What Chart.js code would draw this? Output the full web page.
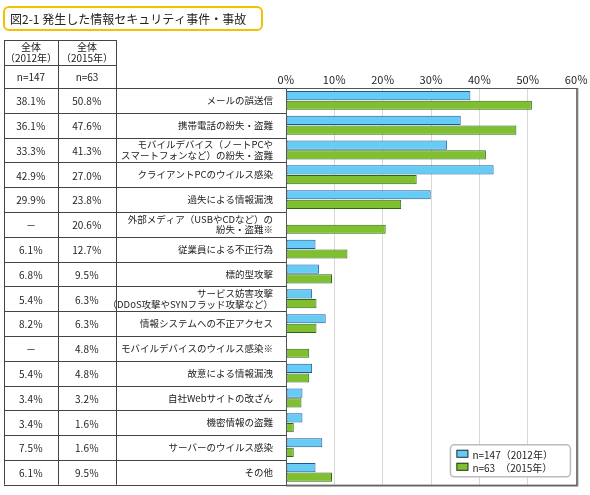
<!DOCTYPE html>
<html>
<script src="https://cdn.jsdelivr.net/npm/chart.js@4/dist/chart.umd.min.js"></script>
<body style="margin:0;background:#fff">
<canvas id="myChart" width="590" height="495"></canvas>
<script>
var titleText = "図2-1 発生した情報セキュリティ事件・事故";
var categories = [
  "メールの誤送信",
  "携帯電話の紛失・盗難",
  ["モバイルデバイス（ノートPCや", "スマートフォンなど）の紛失・盗難"],
  "クライアントPCのウイルス感染",
  "過失による情報漏洩",
  ["外部メディア（USBやCDなど）の", "紛失・盗難※"],
  "従業員による不正行為",
  "標的型攻撃",
  ["サービス妨害攻撃", "（DDoS攻撃やSYNフラッド攻撃など）"],
  "情報システムへの不正アクセス",
  "モバイルデバイスのウイルス感染※",
  "故意による情報漏洩",
  "自社Webサイトの改ざん",
  "機密情報の盗難",
  "サーバーのウイルス感染",
  "その他"
];
var v2012 = [38.1, 36.1, 33.3, 42.9, 29.9, null, 6.1, 6.8, 5.4, 8.2, null, 5.4, 3.4, 3.4, 7.5, 6.1];
var v2015 = [50.8, 47.6, 41.3, 27.0, 23.8, 20.6, 12.7, 9.5, 6.3, 6.3, 4.8, 4.8, 3.2, 1.6, 1.6, 9.5];
var colHeads = [["全体", "（2012年）"], ["全体", "（2015年）"]];
var nLabels = ["n=147", "n=63"];
var seriesLabels = ["n=147（2012年）", "n=63　（2015年）"];

var FONT = "'Noto Sans CJK JP', 'Noto Sans', sans-serif";
var fills = ["#66ccf5", "#80c030"];
var borders = ["#1a5a9a", "#2f6a10"];

function pct(v) { return v == null ? "－" : v.toFixed(1) + "％"; }

var tablePlugin = {
  id: "table",
  afterDraw: function (chart) {
    var c = chart.ctx, a = chart.chartArea, ys = chart.scales.y;
    var n = categories.length, rh = (a.bottom - a.top) / n;
    var xs = [4, 58, 116];
    c.save();
    // title box
    c.strokeStyle = "#f2c200"; c.lineWidth = 2; c.fillStyle = "#fff";
    c.beginPath(); c.roundRect(4, 7, 258, 23, 5); c.stroke();
    c.fillStyle = "#222"; c.font = "12px " + FONT; c.textBaseline = "middle"; c.textAlign = "left";
    c.fillText(titleText, 10, 19);
    // table
    c.strokeStyle = "#444"; c.lineWidth = 1;
    var top = 40, mid = 65;
    c.beginPath();
    [top, mid, a.top].forEach(function (y) { c.moveTo(xs[0], y + 0.5); c.lineTo(xs[2], y + 0.5); });
    for (var i = 1; i <= n; i++) { var y = Math.round(a.top + i * rh) + 0.5; c.moveTo(xs[0], y); c.lineTo(a.left, y); }
    c.moveTo(xs[0], a.top + 0.5); c.lineTo(a.left, a.top + 0.5);
    xs.forEach(function (x) { c.moveTo(x + 0.5, top); c.lineTo(x + 0.5, a.bottom); });
    c.stroke();
    c.fillStyle = "#222"; c.textAlign = "center"; c.font = "10px " + FONT;
    for (var k = 0; k < 2; k++) {
      var cx = (xs[k] + xs[k + 1]) / 2;
      c.fillText(colHeads[k][0], cx, 47); c.fillText(colHeads[k][1], cx, 58);
      c.fillText(nLabels[k], cx, (mid + a.top) / 2 + 1);
    }
    var cols = [v2012, v2015];
    for (var i = 0; i < n; i++) {
      var yc = ys.getPixelForValue(i);
      for (var k = 0; k < 2; k++) c.fillText(pct(cols[k][i]), (xs[k] + xs[k + 1]) / 2, yc + 1);
    }
    // plot frame
    c.strokeStyle = "#999"; c.lineWidth = 2;
    c.beginPath(); c.moveTo(a.right + 1, a.top); c.lineTo(a.right + 1, a.bottom + 1); c.lineTo(a.left, a.bottom + 1); c.stroke();
    c.strokeStyle = "#555"; c.lineWidth = 1;
    c.strokeRect(a.left + 0.5, a.top + 0.5, a.right - a.left, a.bottom - a.top);
    // legend
    var lx = a.right - 126, ly = a.bottom - 40, lw = 120, lh = 32;
    c.fillStyle = "#fff"; c.strokeStyle = "#bbb"; c.lineWidth = 1.5;
    c.beginPath(); c.roundRect(lx, ly, lw, lh, 4); c.fill(); c.stroke();
    c.font = "10px " + FONT; c.textAlign = "left";
    for (var k = 0; k < 2; k++) {
      var yy = ly + 9 + k * 13;
      c.fillStyle = fills[k]; c.fillRect(lx + 6, yy - 4, 12, 8);
      c.strokeStyle = "#333"; c.lineWidth = 1; c.strokeRect(lx + 6.5, yy - 3.5, 11, 7);
      c.fillStyle = "#222"; c.fillText(seriesLabels[k], lx + 22, yy + 1);
    }
    c.restore();
  }
};

new Chart("myChart", {
  type: "bar",
  data: {
    labels: categories,
    datasets: [
      { label: seriesLabels[0], data: v2012, backgroundColor: fills[0], borderColor: borders[0], borderWidth: 1, borderSkipped: false },
      { label: seriesLabels[1], data: v2015, backgroundColor: fills[1], borderColor: borders[1], borderWidth: 1, borderSkipped: false }
    ]
  },
  options: {
    indexAxis: "y",
    responsive: false,
    animation: false,
    layout: { padding: { left: 4, right: 13, top: 0, bottom: 9 } },
    plugins: { legend: { display: false }, tooltip: { enabled: false } },
    datasets: { bar: { categoryPercentage: 0.78, barPercentage: 0.95 } },
    scales: {
      x: {
        position: "top", min: 0, max: 60,
        afterFit: function (s) { s.height = 88; },
        ticks: { stepSize: 10, color: "#222", font: { family: FONT, size: 11 }, padding: 2, callback: function (v) { return v + "％"; } },
        grid: { color: "#d8d8d8", drawTicks: false },
        border: { display: false }
      },
      y: {
        afterFit: function (s) { s.width = 282; },
        ticks: { color: "#222", font: { family: FONT, size: 9.5, lineHeight: 1.1 }, padding: 5, autoSkip: false },
        grid: { display: false },
        border: { display: false }
      }
    }
  },
  plugins: [tablePlugin]
});
</script>
</body>
</html>
